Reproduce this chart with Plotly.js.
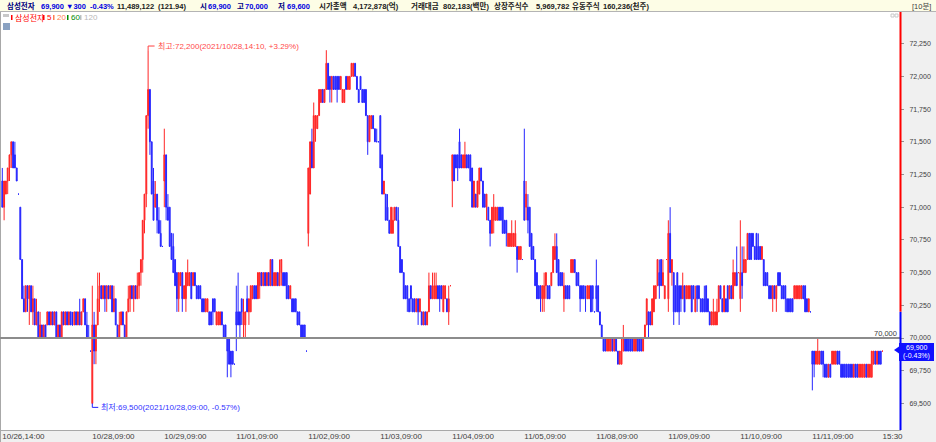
<!DOCTYPE html>
<html><head><meta charset="utf-8">
<script src="https://cdn.plot.ly/plotly-3.0.1.min.js"></script>
<style>html,body{margin:0;padding:0;background:#fff;overflow:hidden}#chart{width:936px;height:442px}</style>
</head><body><div id="chart"></div>
<script>
// ---------- data ----------
const tradingDays = ['10/26','10/27','10/28','10/29','11/01','11/02','11/03','11/04','11/05','11/08','11/09','11/10','11/11'];
const tickKeys = ['10/26,14:00','10/28,09:00','10/29,09:00','11/01,09:00','11/02,09:00','11/03,09:00','11/04,09:00','11/05,09:00','11/08,09:00','11/09,09:00','11/10,09:00','11/11,09:00','11/11,15:30'];
const tickText = ['10/26,14:00','10/28,09:00','10/29,09:00','11/01,09:00','11/02,09:00','11/03,09:00','11/04,09:00','11/05,09:00','11/08,09:00','11/09,09:00','11/10,09:00','11/11,09:00','15:30'];

const openP = [
// 10/26
71200,71000,71100,71200,71300,71400,71500,71400,71300,71100,
// 10/27
71000,70600,70300,70200,70400,70300,70400,70200,70300,70100,
70200,70000,70100,70000,70100,70100,70200,70100,70200,70100,
70200,70000,70100,70000,70200,70100,70200,70100,70200,70100,
70100,70200,70100,70200,70100,70200,70300,70100,70000,69900,
// 10/28
69500,70100,69900,70100,70300,70400,70300,70400,70300,70400,
70300,70400,70200,70300,70100,70000,70100,70200,70100,70000,
70200,70300,70400,70300,70400,70300,70400,70500,70600,70900,
71100,71700,71900,71500,71200,71000,71100,70900,70800,70700,
// 10/29
71200,71400,71000,71000,70800,70700,70600,70500,70300,70400,
70500,70300,70300,70400,70400,70500,70400,70500,70400,70400,
70400,70300,70300,70200,70200,70200,70200,70300,70300,70100,
70100,70100,70200,70100,70100,70000,70000,69900,69900,69800,
// 11/01
70200,70200,70200,70300,70100,70100,70300,70200,70200,70300,
70400,70400,70300,70400,70500,70400,70500,70400,70500,70400,
70600,70400,70400,70500,70400,70500,70500,70500,70500,70400,
70300,70300,70300,70300,70200,70200,70100,70100,70100,69900,
// 11/02
70800,71100,71500,71300,71600,71600,71700,71800,71900,71800,
71900,72100,72000,71900,72000,72000,72000,72000,71900,71800,
71800,72000,71900,71900,72000,72000,72100,72000,71900,72000,
71900,71900,71900,71700,71500,71600,71700,71600,71500,71500,
// 11/03
71700,71400,71100,71100,71000,70900,70800,70800,70900,71000,
70900,70700,70600,70500,70400,70400,70300,70400,70300,70300,
70200,70300,70200,70200,70100,70200,70100,70200,70400,70300,
70300,70300,70400,70400,70400,70200,70300,70300,70200,70400,
// 11/04
71200,71400,71400,71400,71500,71400,71300,71300,71400,71400,
71400,71300,71000,71100,71000,71100,71300,71200,71100,71000,
71000,70900,70800,70900,70900,70900,71000,71000,71000,70900,
70900,70700,70700,70700,70700,70700,70700,70600,70600,70600,
// 11/05
71200,71000,71000,71000,70800,70700,70600,70500,70400,70400,
70300,70300,70400,70400,70400,70400,70500,70600,70700,70600,
70500,70500,70300,70400,70400,70400,70500,70500,70600,70500,
70500,70400,70400,70400,70300,70300,70300,70400,70400,70200,
// 11/08
70400,70400,70200,70100,70000,70000,69900,69900,69900,70000,
69900,70000,69900,69800,69800,69900,70000,70000,70000,70000,
70000,69900,69900,70000,70000,70000,69900,70000,70100,70200,
70200,70100,70200,70300,70400,70500,70600,70400,70300,70600,
// 11/09
70300,70800,70500,70500,70400,70500,70400,70400,70300,70400,
70300,70300,70300,70400,70400,70200,70400,70400,70300,70300,
70300,70400,70300,70200,70100,70100,70100,70100,70200,70400,
70300,70200,70300,70400,70300,70400,70300,70400,70500,70500,
// 11/10
70300,70500,70500,70500,70600,70800,70800,70800,70700,70800,
70700,70700,70600,70600,70500,70500,70400,70400,70300,70400,
70300,70500,70500,70400,70400,70400,70300,70300,70300,70300,
70300,70300,70300,70300,70300,70400,70400,70300,70200,70200,
// 11/11
69900,69900,69800,69800,69800,69900,69900,69800,69800,69700,
69800,69800,69800,69800,69900,69900,69800,69800,69800,69800,
69800,69800,69800,69700,69800,69800,69700,69700,69700,69700,
69800,69700,69700,69700,69800,69900,69800,69900,69900,69900
];

const highP = [
// 10/26
71300,71200,71200,71300,71400,71500,71500,71500,71300,71100,
// 10/27
71000,70600,70400,70400,70400,70400,70400,70400,70300,70300,
70200,70200,70100,70100,70100,70200,70200,70200,70200,70200,
70200,70100,70100,70200,70200,70200,70200,70200,70200,70200,
70200,70200,70200,70300,70200,70300,70300,70200,70100,69900,
// 10/28
70400,70200,70100,70500,70500,70400,70400,70400,70400,70400,
70400,70400,70400,70300,70100,70200,70200,70200,70100,70200,
70400,70400,70400,70400,70400,70500,70500,70600,70900,71100,
71700,72200,71900,71500,71300,71200,71100,71000,70900,70700,
// 10/29
71600,71400,71100,71000,70800,70800,70600,70500,70500,70500,
70500,70400,70500,70600,70500,70500,70500,70500,70400,70400,
70400,70300,70300,70300,70300,70200,70200,70300,70300,70200,
70200,70200,70200,70100,70100,70000,70000,69900,69900,69800,
// 11/01
70400,70500,70200,70300,70300,70200,70400,70300,70400,70400,
70400,70400,70500,70500,70500,70500,70500,70500,70500,70600,
70600,70500,70500,70500,70600,70600,70500,70500,70500,70400,
70400,70300,70300,70300,70200,70200,70100,70100,70100,69900,
// 11/02
71300,71500,71600,71800,71700,71700,71900,71900,71900,71900,
72200,72100,72000,72000,72000,72000,72000,72000,72000,71900,
71900,72000,72000,72000,72100,72100,72100,72000,71900,72000,
71900,71900,71900,71700,71700,71700,71700,71600,71600,71500,
// 11/03
71700,71400,71200,71100,71100,70900,71000,71000,71000,71000,
71000,70700,70600,70500,70400,70400,70300,70400,70300,70300,
70300,70300,70300,70200,70200,70200,70200,70500,70400,70500,
70500,70500,70400,70400,70400,70400,70400,70300,70400,70400,
// 11/04
71400,71400,71400,71400,71600,71400,71400,71500,71400,71400,
71400,71300,71200,71100,71200,71300,71300,71200,71100,71100,
71000,70900,71000,71100,71000,71000,71000,71000,71000,70900,
70900,70800,70800,70900,70800,70900,70700,70700,70700,70600,
// 11/05
71600,71200,71100,71000,70800,70700,70600,70500,70400,70400,
70400,70500,70500,70400,70400,70500,70700,70800,70800,70600,
70500,70500,70500,70400,70400,70400,70600,70600,70600,70500,
70500,70400,70400,70400,70400,70400,70400,70400,70400,70200,
// 11/08
70600,70400,70200,70100,70000,70000,70000,70000,70000,70000,
70000,70000,69900,69900,70000,70100,70000,70000,70000,70000,
70000,70000,70000,70000,70000,70000,70000,70100,70300,70200,
70200,70300,70400,70400,70600,70600,70600,70600,70400,70600,
// 11/09
70900,71000,70600,70500,70400,70500,70400,70400,70500,70400,
70400,70400,70400,70400,70400,70400,70400,70400,70300,70300,
70400,70400,70300,70200,70200,70300,70200,70300,70400,70400,
70300,70400,70300,70400,70400,70400,70600,70500,70700,70500,
// 11/10
70900,70700,70700,70600,70800,70800,70800,70800,70700,70800,
70800,70700,70700,70600,70500,70500,70400,70400,70400,70400,
70400,70500,70500,70400,70400,70400,70300,70300,70300,70300,
70400,70400,70400,70400,70400,70400,70400,70300,70300,70200,
// 11/11
69900,69900,69900,70000,69900,69900,69900,69800,69800,69800,
69800,69900,69900,69900,69900,69900,69800,69800,69800,69800,
69800,69800,69800,69800,69800,69800,69800,69800,69800,69800,
69800,69800,69800,69900,69900,69900,69900,69900,69900,69900
];

const lowP = [
// 10/26
71000,70900,71100,71100,71200,71300,71300,71300,71200,71100,
// 10/27
70600,70300,70200,70200,70200,70100,70200,70100,70100,70100,
70000,70000,70000,70000,70000,70100,70100,70100,70100,70100,
70000,70000,70000,70000,70100,70100,70100,70100,70100,70100,
70100,70100,70100,70100,70100,70200,70100,70000,70000,69900,
// 10/28
69500,69800,69800,70100,70200,70300,70300,70200,70200,70300,
70300,70200,70200,70100,70000,70000,70100,70100,70000,70000,
70200,70200,70300,70200,70300,70300,70300,70400,70500,70800,
71000,71600,71400,71100,70900,71000,70800,70800,70700,70700,
// 10/29
71000,70900,70900,70700,70600,70500,70400,70200,70200,70400,
70200,70300,70200,70400,70400,70300,70400,70400,70300,70300,
70300,70200,70200,70200,70200,70100,70100,70100,70200,70100,
70100,70100,70100,70000,70000,69700,69800,69700,69800,69800,
// 11/01
69900,70100,70000,70100,70000,70000,70200,70100,70200,70300,
70300,70300,70300,70300,70400,70400,70400,70400,70400,70400,
70400,70400,70400,70400,70400,70400,70400,70400,70300,70300,
70300,70200,70200,70200,70100,70100,70000,70000,70000,69900,
// 11/02
70700,71100,71300,71300,71500,71600,71700,71800,71800,71800,
71900,71900,71800,71800,71900,71900,71800,71900,71900,71800,
71800,71900,71900,71900,72000,72000,72000,71900,71800,71900,
71800,71800,71700,71400,71500,71600,71600,71500,71500,71500,
// 11/03
71300,71100,71100,70900,70900,70800,70800,70800,70900,70900,
70700,70500,70500,70300,70300,70200,70200,70200,70200,70200,
70200,70100,70200,70100,70100,70100,70100,70200,70300,70300,
70300,70300,70300,70200,70300,70200,70300,70200,70100,70400,
// 11/04
71000,71200,71300,71200,71300,71300,71300,71300,71300,71300,
71200,71000,71000,71000,71000,71100,71200,71000,71000,70900,
70900,70700,70800,70800,70900,70900,70900,70900,70800,70800,
70700,70700,70700,70700,70700,70700,70500,70600,70600,70600,
// 11/05
70900,70900,70800,70700,70600,70600,70400,70300,70300,70200,
70200,70200,70300,70300,70300,70400,70500,70600,70500,70400,
70400,70400,70200,70300,70300,70300,70500,70500,70500,70400,
70400,70200,70300,70300,70200,70300,70300,70200,70200,70200,
// 11/08
70200,70200,70100,70000,69900,69900,69900,69900,69900,69900,
69900,69900,69800,69800,69800,69900,69900,69900,69900,69900,
69900,69900,69900,69900,69900,69900,69900,70000,70100,70000,
70100,70100,70200,70300,70400,70300,70400,70400,70300,70600,
// 11/09
70200,70500,70400,70100,70200,70200,70100,70200,70300,70200,
70300,70300,70300,70200,70300,70200,70200,70300,70200,70200,
70200,70200,70200,70100,70100,70100,70100,70100,70200,70300,
70200,70200,70200,70200,70300,70300,70300,70400,70400,70500,
// 11/10
70200,70300,70500,70500,70600,70600,70600,70700,70600,70600,
70600,70600,70600,70400,70400,70400,70300,70300,70200,70300,
70200,70400,70400,70300,70300,70200,70200,70200,70200,70200,
70300,70300,70300,70300,70300,70300,70200,70200,70200,70200,
// 11/11
69600,69700,69800,69800,69800,69800,69700,69700,69700,69700,
69700,69800,69800,69800,69800,69800,69700,69700,69700,69700,
69700,69700,69700,69700,69700,69700,69700,69700,69700,69700,
69700,69700,69700,69700,69800,69800,69800,69800,69800,69900
];

const closeP = [
// 10/26
71000,71200,71200,71300,71400,71500,71300,71300,71200,71100,
// 10/27
70600,70300,70200,70400,70300,70400,70200,70300,70100,70200,
70000,70100,70000,70100,70000,70200,70100,70200,70100,70200,
70000,70100,70000,70200,70100,70200,70100,70200,70100,70100,
70200,70100,70200,70100,70200,70300,70100,70000,70000,69900,
// 10/28
70100,69900,70100,70300,70400,70300,70400,70300,70400,70300,
70400,70200,70300,70100,70000,70100,70200,70100,70000,70200,
70300,70400,70300,70400,70300,70400,70500,70600,70900,71100,
71700,71900,71500,71100,70900,71100,70900,70800,70700,70700,
// 10/29
71400,71000,70900,70700,70600,70500,70400,70300,70500,70500,
70300,70400,70500,70500,70500,70300,70500,70400,70300,70300,
70300,70200,70200,70300,70300,70100,70100,70200,70200,70200,
70200,70200,70100,70000,70000,69900,69800,69800,69800,69800,
// 11/01
70100,70100,70100,70200,70200,70200,70200,70300,70400,70400,
70300,70300,70500,70500,70400,70500,70400,70500,70400,70600,
70400,70500,70500,70400,70500,70600,70400,70400,70300,70300,
70400,70200,70200,70200,70100,70100,70000,70000,70000,69900,
// 11/02
71300,71500,71300,71700,71700,71700,71900,71900,71800,71900,
72100,71900,71900,72000,71900,71900,71900,71900,72000,71900,
71900,71900,72000,72000,72100,72100,72000,71900,71800,71900,
71800,71800,71700,71500,71700,71700,71600,71500,71500,71500,
// 11/03
71300,71100,71200,70900,70900,70800,71000,70900,71000,70900,
70700,70500,70500,70300,70300,70300,70200,70300,70200,70200,
70300,70200,70300,70100,70200,70100,70200,70400,70300,70400,
70400,70400,70300,70300,70300,70400,70400,70200,70300,70400,
// 11/04
71400,71200,71300,71300,71300,71300,71400,71400,71300,71300,
71200,71000,71200,71000,71200,71300,71200,71000,71000,71100,
70900,70800,71000,71000,71000,71000,70900,70900,70800,70800,
70800,70800,70800,70800,70800,70800,70600,70700,70700,70600,
// 11/05
70900,71100,70900,70700,70600,70600,70400,70300,70300,70300,
70400,70400,70500,70300,70300,70500,70700,70700,70500,70400,
70400,70400,70400,70300,70300,70300,70600,70600,70500,70400,
70400,70300,70300,70300,70300,70400,70400,70200,70300,70200,
// 11/08
70300,70200,70100,70000,69900,69900,70000,70000,70000,69900,
70000,69900,69800,69900,69900,70000,69900,69900,69900,69900,
69900,70000,70000,69900,69900,69900,70000,70100,70300,70100,
70100,70300,70400,70400,70600,70400,70400,70500,70400,70600,
// 11/09
70800,70500,70600,70200,70200,70200,70200,70300,70400,70200,
70400,70400,70400,70200,70300,70300,70300,70300,70200,70200,
70200,70200,70200,70100,70200,70200,70200,70200,70400,70300,
70200,70400,70200,70200,70400,70300,70500,70500,70400,70500,
// 11/10
70500,70400,70600,70600,70800,70600,70600,70700,70600,70600,
70600,70600,70700,70400,70400,70400,70300,70300,70400,70300,
70400,70400,70400,70300,70300,70300,70200,70200,70200,70200,
70400,70400,70400,70400,70400,70300,70200,70200,70300,70200,
// 11/11
69800,69800,69900,69900,69900,69800,69800,69700,69700,69800,
69700,69900,69900,69900,69800,69800,69700,69700,69700,69700,
69700,69700,69700,69800,69700,69700,69800,69800,69800,69800,
69700,69800,69800,69900,69900,69800,69900,69800,69800,69900
];

const prevClose = 70200;       // 11/10 close (price bar colour split)
const refLine = 70000;         // horizontal reference line
const hiLabel = '최고:72,200(2021/10/28,14:10, +3.29%)';
const loLabel = '최저:69,500(2021/10/28,09:00, -0.57%)';
const hiKey = '10/28,14:10', hiPrice = 72200;
const loKey = '10/28,09:00', loPrice = 69500;

// ---------- time categories ----------
const timeLabels = [];
tradingDays.forEach((d, k) => {
  let h = 9, m = 0;
  if (k === 0) { h = 14; m = 0; }
  while (h < 15 || (h === 15 && m <= 30)) {
    timeLabels.push(d + ',' + String(h).padStart(2,'0') + ':' + String(m).padStart(2,'0'));
    m += 10; if (m === 60) { m = 0; h += 1; }
  }
});
const xIdx = timeLabels.map((_, i) => i);
const tickVals = tickKeys.map(k => timeLabels.indexOf(k));

// ---------- geometry helpers (pixels -> paper) ----------
const PL = 0, PR = 900, PT = 12, PB = 430;
const pxX = v => (v - PL) / (PR - PL);
const pxY = v => 1 - (v - PT) / (PB - PT);
const yRange = [69297, 72492];
const xRange = [-1.28, 498.7];
const FN = 'Liberation Sans, Noto Sans CJK KR, sans-serif';

const shapes = [
  {type:'rect', xref:'paper', yref:'paper', x0:pxX(0), x1:pxX(936), y0:pxY(11), y1:pxY(0), fillcolor:'#fdfde6', line:{width:0}, layer:'below'},
  {type:'line', xref:'paper', yref:'paper', x0:pxX(0), x1:pxX(936), y0:pxY(11.5), y1:pxY(11.5), line:{color:'#b4b4b4', width:1}},
  {type:'rect', xref:'paper', yref:'paper', x0:pxX(901), x1:pxX(936), y0:pxY(430), y1:pxY(12), fillcolor:'#f0f0f0', line:{width:0}, layer:'below'},
  {type:'rect', xref:'paper', yref:'paper', x0:pxX(0), x1:pxX(936), y0:pxY(442), y1:pxY(430), fillcolor:'#f0f0f0', line:{width:0}, layer:'below'},
  {type:'line', xref:'paper', yref:'paper', x0:pxX(0), x1:pxX(901), y0:pxY(430.5), y1:pxY(430.5), line:{color:'#a8a8a8', width:1}},
  {type:'line', xref:'paper', yref:'paper', x0:pxX(0.5), x1:pxX(0.5), y0:pxY(442), y1:pxY(12), line:{color:'#a8a8a8', width:1}},
  {type:'line', xref:'paper', yref:'y', x0:0, x1:1, y0:refLine, y1:refLine, line:{color:'#8c8c8c', width:2}},
  {type:'line', xref:'paper', yref:'y', x0:pxX(900.5), x1:pxX(900.5), y0:prevClose, y1:yRange[1], line:{color:'#ff0000', width:2}},
  {type:'line', xref:'paper', yref:'y', x0:pxX(900.5), x1:pxX(900.5), y0:yRange[0], y1:prevClose, line:{color:'#0000ff', width:2}},
  {type:'rect', xref:'paper', yref:'paper', x0:pxX(899), x1:pxX(934), y0:pxY(361), y1:pxY(343), fillcolor:'#1010ff', line:{width:0}},
  {type:'path', xref:'paper', yref:'paper', path:`M ${pxX(894)} ${pxY(350)} L ${pxX(899)} ${pxY(346.5)} L ${pxX(899)} ${pxY(353.5)} Z`, fillcolor:'#1010ff', line:{width:0}},
  {type:'rect', xref:'paper', yref:'paper', x0:pxX(3), x1:pxX(9), y0:pxY(17), y1:pxY(14), fillcolor:'#c8c8c8', line:{width:0}},
  {type:'rect', xref:'paper', yref:'paper', x0:pxX(11), x1:pxX(12.5), y0:pxY(20), y1:pxY(15), fillcolor:'#ff0000', line:{width:0}},
  {type:'rect', xref:'paper', yref:'paper', x0:pxX(43), x1:pxX(44.5), y0:pxY(20), y1:pxY(15), fillcolor:'#ff0000', line:{width:0}},
  {type:'rect', xref:'paper', yref:'paper', x0:pxX(53), x1:pxX(54.5), y0:pxY(20), y1:pxY(15), fillcolor:'#ff7f50', line:{width:0}},
  {type:'rect', xref:'paper', yref:'paper', x0:pxX(67), x1:pxX(68.5), y0:pxY(20), y1:pxY(15), fillcolor:'#008c00', line:{width:0}},
  {type:'rect', xref:'paper', yref:'paper', x0:pxX(80), x1:pxX(81.5), y0:pxY(20), y1:pxY(15), fillcolor:'#c0c0c0', line:{width:0}},
  {type:'rect', xref:'paper', yref:'paper', x0:pxX(3), x1:pxX(10), y0:pxY(30), y1:pxY(23), fillcolor:'#8aa2c2', line:{width:0}},
  {type:'rect', xref:'paper', yref:'paper', x0:pxX(891), x1:pxX(894), y0:pxY(17), y1:pxY(14), fillcolor:'#ffffff', line:{color:'#c8c8c8', width:1}},
  {type:'rect', xref:'paper', yref:'paper', x0:pxX(895), x1:pxX(898), y0:pxY(17), y1:pxY(14), fillcolor:'#ffffff', line:{color:'#c8c8c8', width:1}},
];

const hiIdx = timeLabels.indexOf(hiKey), loIdx = timeLabels.indexOf(loKey);
shapes.push({type:'path', xref:'x', yref:'y', path:`M ${hiIdx} ${hiPrice} L ${hiIdx} ${hiPrice+32} L ${hiIdx+3.6} ${hiPrice+32}`, line:{color:'#ff4040', width:1}});
shapes.push({type:'path', xref:'x', yref:'y', path:`M ${loIdx} ${loPrice} L ${loIdx} ${loPrice-30} L ${loIdx+3.3} ${loPrice-30}`, line:{color:'#2020ff', width:1}});

const A = (x, y, text, color, size, extra) => Object.assign({
  xref:'paper', yref:'paper', x:pxX(x), y:pxY(y), text, showarrow:false,
  xanchor:'left', yanchor:'middle', font:{family:FN, size:size||8, color}
}, extra||{});
const HB = (x, text, color) => A(x, 6, text, color, 7.5, {font:{family:FN, size:7.5, color, weight:'bold'}});

const navy = '#000080', blue = '#0000e0', blk = '#202020';
const annotations = [
  HB(5, '삼성전자', navy),
  HB(39, '69,900', blue),
  HB(64, '▼300', blue),
  HB(88, '-0.43%', blue),
  HB(115, '11,489,122', blk),
  HB(156, '(121.94)', blk),
  HB(198, '시', navy),
  HB(206, '69,900', blue),
  HB(235, '고', navy),
  HB(243, '70,000', blue),
  HB(276, '저', navy),
  HB(285, '69,600', blue),
  HB(317, '시가총액', blk),
  HB(351, '4,172,878(억)', blk),
  HB(409, '거래대금', blk),
  HB(441, '802,183(백만)', blk),
  HB(492, '상장주식수', blk),
  HB(534, '5,969,782', blk),
  HB(570, '유동주식', blk),
  HB(601, '160,236(천주)', blk),
  A(910, 6, '[10분]', '#404040', 7.5),
  A(13, 17.5, '삼성전자', '#ff0000', 8),
  A(45, 17.5, '5', '#ff0000', 8),
  A(55, 17.5, '20', '#ff7f50', 8),
  A(69, 17.5, '60', '#008c00', 8),
  A(82, 17.5, '120', '#b8b8b8', 8),
  {xref:'paper', yref:'y', x:pxX(899), y:refLine, yshift:5, text:'70,000', showarrow:false, xanchor:'right', yanchor:'middle', font:{family:FN, size:7.5, color:'#404040'}},
  A(916.5, 347.5, '69,900', '#ffffff', 7, {xanchor:'center'}),
  A(916.5, 356, '(-0.43%)', '#ffffff', 7, {xanchor:'center'}),
  {xref:'x', yref:'y', x:hiIdx, y:hiPrice, xshift:8, yshift:4.5, text:hiLabel, showarrow:false, xanchor:'left', yanchor:'middle', font:{family:FN, size:8, color:'#ff4a4a'}},
  {xref:'x', yref:'y', x:loIdx, y:loPrice, xshift:6.5, yshift:-4, text:loLabel, showarrow:false, xanchor:'left', yanchor:'middle', font:{family:FN, size:8, color:'#3030ff'}},
];

const trace = {
  type:'candlestick', x:xIdx, open:openP, high:highP, low:lowP, close:closeP,
  increasing:{line:{color:'#ff0000', width:1}, fillcolor:'#ff0000'},
  decreasing:{line:{color:'#0000ff', width:1}, fillcolor:'#0000ff'},
  whiskerwidth:0, opacity:0.85, hoverinfo:'skip', showlegend:false
};

const layout = {
  width:936, height:442,
  margin:{l:0, r:36, t:12, b:12, pad:0},
  paper_bgcolor:'#ffffff', plot_bgcolor:'#ffffff',
  showlegend:false,
  xaxis:{range:xRange, type:'linear', showgrid:false, zeroline:false, showline:false,
    tickmode:'array', tickvals:tickVals, ticktext:tickText, ticks:'',
    ticklabelposition:'outside right', tickfont:{family:FN, size:8, color:'#404040'},
    rangeslider:{visible:false}, fixedrange:true},
  yaxis:{side:'right', range:yRange, tick0:69500, dtick:250, tickformat:',d',
    showgrid:false, zeroline:false, showline:false, ticks:'outside', ticklen:3,
    tickcolor:'#909090', ticklabelstandoff:4, tickfont:{family:FN, size:7, color:'#404040'}, fixedrange:true},
  shapes, annotations
};

Plotly.newPlot('chart', [trace], layout, {staticPlot:true, displayModeBar:false});
</script></body></html>
